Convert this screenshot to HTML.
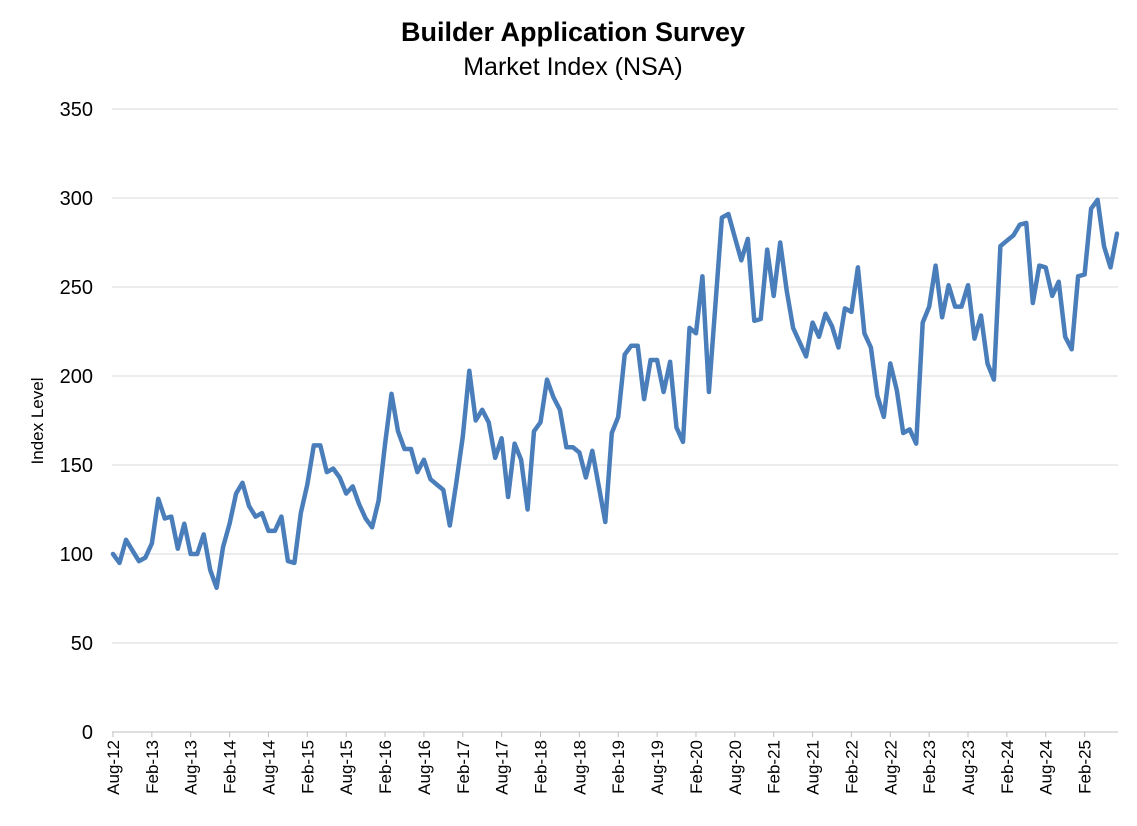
<!DOCTYPE html>
<html><head><meta charset="utf-8"><style>
body{margin:0;background:#fff;}
svg{display:block;font-family:"Liberation Sans",Arial,sans-serif;}
</style></head><body>
<svg id="chart" width="1137" height="826">
<text x="573" y="41" text-anchor="middle" font-size="27" font-weight="bold">Builder Application Survey</text>
<text x="573" y="75" text-anchor="middle" font-size="25">Market Index (NSA)</text>
<text transform="translate(43,421) rotate(-90)" text-anchor="middle" font-size="17">Index Level</text>
<g id="grid"></g><g id="yticks"></g><g id="xticks"></g><g id="series"></g>
</svg>
<script>
const startYear = 2012, startMonth = 7;
const values = [100,95,108,102,96,98,106,131,120,121,103,117,100,100,111,91,81,104,117,134,140,127,121,123,113,113,121,96,95,123,139,161,161,146,148,143,134,138,128,120,115,130,162,190,
169,159,159,146,153,142,139,136,116,140,166,203,
175,181,174,154,165,132,162,153,125,169,174,198,188,181,160,160,157,143,158,138,118,
168,177,212,217,217,187,209,209,191,208,171,163,227,224,256,191,240,289,291,278,265,
277,231,232,271,245,275,248,227,219,211,230,222,235,228,216,238,236,261,224,216,189,177,207,192,168,170,162,230,239,262,233,251,239,239,251,221,234,207,198,273,276,279,285,286,241,262,261,245,253,222,215,256,257,294,299,273,261,280];
const yTicks = [0,50,100,150,200,250,300,350];
const monthNames = ["Jan","Feb","Mar","Apr","May","Jun","Jul","Aug","Sep","Oct","Nov","Dec"];
const categories = values.map((v,i)=>{const m=(startMonth+i)%12, y=startYear+Math.floor((startMonth+i)/12);return monthNames[m]+"-"+String(y).slice(2);});

const NS="http://www.w3.org/2000/svg";
const L=113,R=1117,T=109,B=732,yMax=350;
const xs=i=>L+(R-L)*i/(values.length-1);
const ys=v=>B-(B-T)*v/yMax;
function mk(tag,attrs,parent){const e=document.createElementNS(NS,tag);for(const k in attrs)e.setAttribute(k,attrs[k]);document.getElementById(parent).appendChild(e);return e;}

yTicks.forEach(t=>{
  const g=mk('line',{x1:112,x2:1118,y1:ys(t),y2:ys(t),stroke:t===0?'#bfbfbf':'#d9d9d9','stroke-width':1},'grid');
  
  
  const tx=mk('text',{x:93,y:ys(t)+7,'text-anchor':'end','font-size':20},'yticks');
  tx.textContent=t;
  
  
});
categories.forEach((c,i)=>{
  if(i%6!==0)return;
  const x=xs(i);
  const tk=mk('line',{x1:x,x2:x,y1:B,y2:B+5,stroke:'#bfbfbf'},'xticks');
  
  
  const tx=mk('text',{transform:`translate(${x+6},${B+8}) rotate(-90)`,'text-anchor':'end','font-size':17},'xticks');
  tx.textContent=c;
  
  
});
const p=mk('polyline',{points:values.map((v,i)=>xs(i).toFixed(1)+','+ys(v).toFixed(1)).join(' '),fill:'none',stroke:'#4a7ebb','stroke-width':4.5,'stroke-linejoin':'round','stroke-linecap':'round'},'series');


</script>
</body></html>
